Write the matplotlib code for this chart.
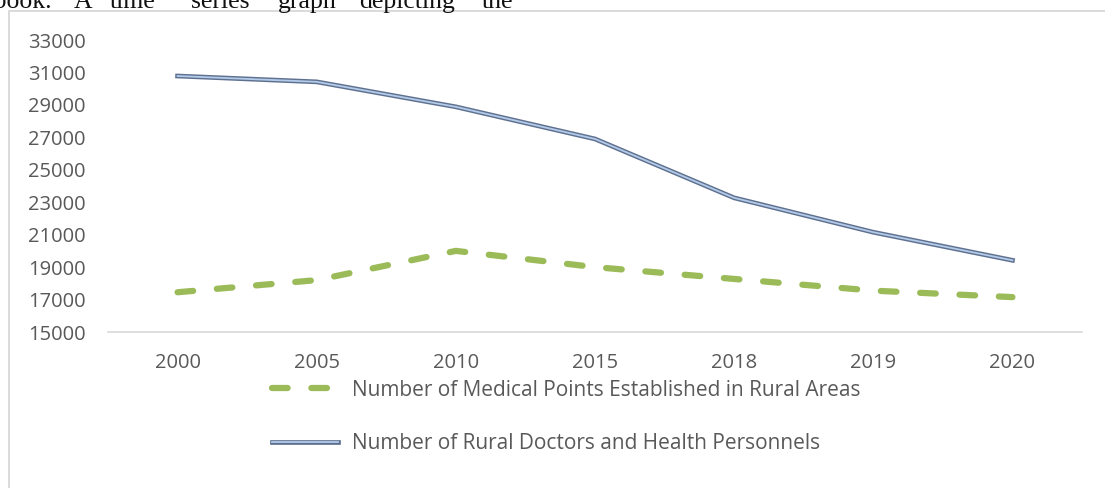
import matplotlib.pyplot as plt
import matplotlib.patheffects as pe
from matplotlib.patches import Rectangle
from matplotlib.lines import Line2D

# data
years = ["2000", "2005", "2010", "2015", "2018", "2019", "2020"]
medical_points = [17450, 18200, 20000, 19000, 18270, 17550, 17150]
rural_doctors = [30780, 30420, 28880, 26900, 23270, 21150, 19420]
yticks = list(range(15000, 33001, 2000))

label_points = "Number of Medical Points Established in Rural Areas"
label_doctors = "Number of Rural Doctors and Health Personnels"

# justified line of the document that sits just above the chart (cut at the top)
caption_words = ["rbook.", "A", "time", "series", "graph", "depicting", "the"]
caption_x = [52, 74, 110, 191, 278, 359, 482]  # pixel starts, first one is right edge

plt.rcParams["font.family"] = ["Open Sans", "DejaVu Sans"]
gray = "#595959"
green_dash = (0, (2.5, 3.8))

fig = plt.figure(figsize=(11.05, 4.88), dpi=100)

# outer chart frame (cut off on the right/bottom like the screenshot)
fig.patches.append(Rectangle((9 / 1105, -0.1), 1.2, (477 / 488) + 0.1,
                             transform=fig.transFigure, fill=False,
                             edgecolor="#d4d4d4", linewidth=1.2))

for i, (w, px) in enumerate(zip(caption_words, caption_x)):
    fig.text(px / 1105, 1 - 8 / 488, w, family=["Liberation Serif", "DejaVu Serif"],
             fontsize=18.5, va="baseline", ha="right" if i == 0 else "left",
             color="#111111")

ax = fig.add_axes([108 / 1105, 156 / 488, 974 / 1105, 292 / 488])
x = range(len(years))

ax.plot(x, medical_points, color="#9bbb59", linewidth=4.5, linestyle=green_dash,
        dash_capstyle="round", solid_capstyle="round")
ax.plot(x, rural_doctors, color="#b3cbe8", linewidth=1.3,
        path_effects=[pe.Stroke(linewidth=3.4, foreground="#5f7190"), pe.Normal()])

ax.set_xlim(-0.5, len(years) - 0.5)
ax.set_ylim(15000, 33000)
ax.set_yticks(yticks)
ax.set_xticks(list(x))
ax.set_xticklabels(years)
for s in ["top", "right", "left"]:
    ax.spines[s].set_visible(False)
ax.spines["bottom"].set_color("#d9d9d9")
ax.spines["bottom"].set_linewidth(1.2)
ax.tick_params(axis="both", length=0, labelsize=14.5, colors=gray)
ax.tick_params(axis="x", pad=15)
ax.tick_params(axis="y", pad=16)

handles = [
    Line2D([], [], color="#9bbb59", linewidth=4.5, linestyle=green_dash,
           dash_capstyle="round"),
    Line2D([], [], color="#b3cbe8", linewidth=1.3,
           path_effects=[pe.Stroke(linewidth=3.4, foreground="#5f7190"), pe.Normal()]),
]
fig.legend(handles, [label_points, label_doctors], loc="upper left",
           bbox_to_anchor=(253 / 1105, 1 - 361 / 488), frameon=False,
           fontsize=15, labelcolor=gray, handlelength=3.2, handletextpad=0.65,
           labelspacing=1.55)

fig.savefig("out.png", dpi=100)
